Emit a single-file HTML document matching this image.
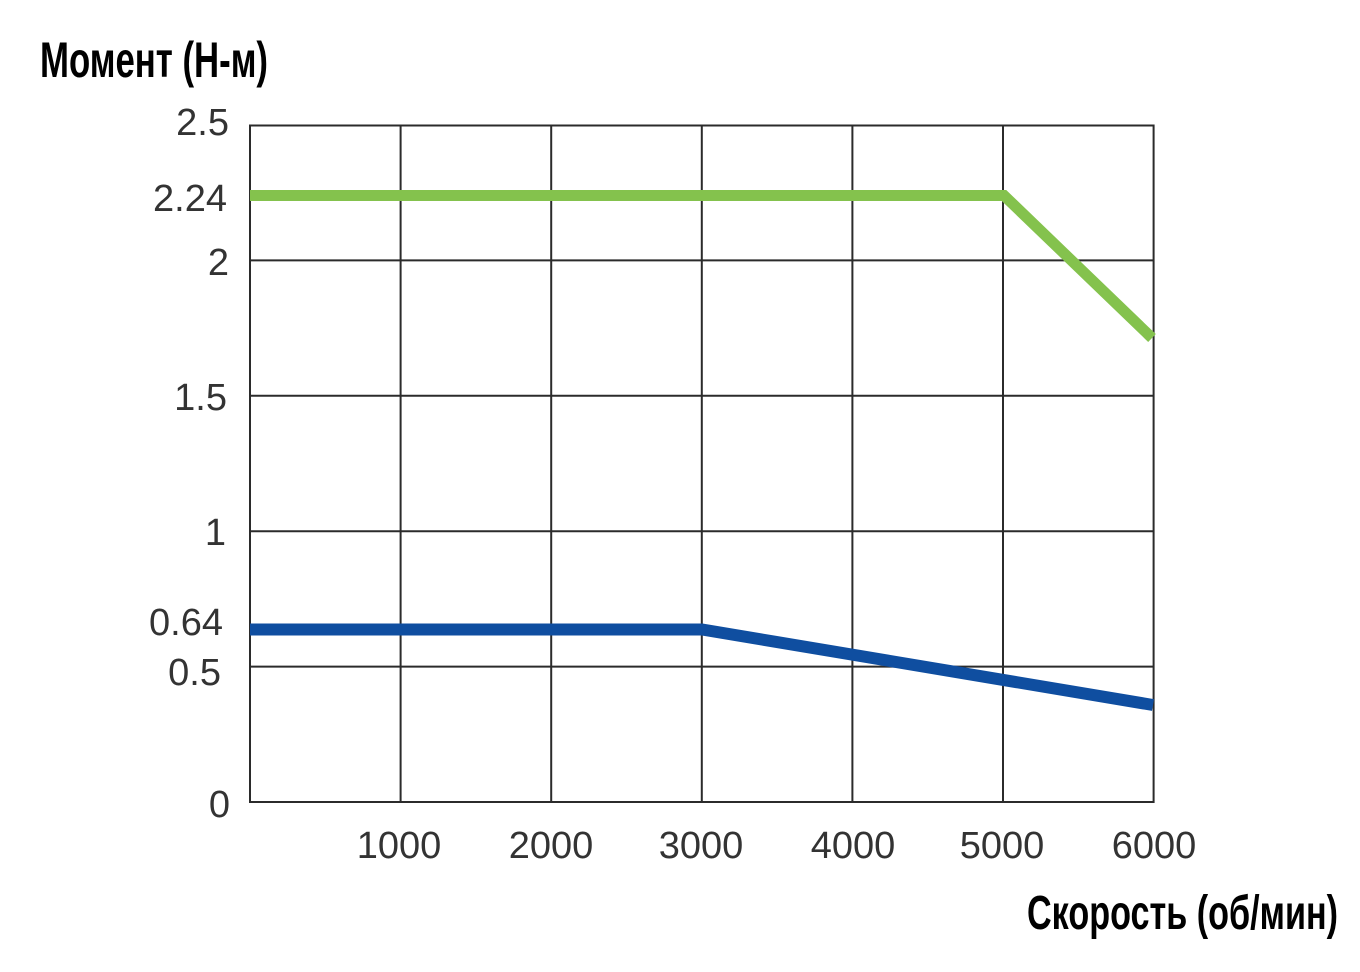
<!DOCTYPE html>
<html>
<head>
<meta charset="utf-8">
<style>
  html, body { margin: 0; padding: 0; background: #ffffff; }
  body { width: 1360px; height: 972px; overflow: hidden; }
  svg { display: block; }
  .tick { font-family: "Liberation Sans", "DejaVu Sans", sans-serif; font-size: 38px; fill: #333333; }
  .title { font-family: "Liberation Sans", "DejaVu Sans", sans-serif; font-weight: bold; fill: #000; }
</style>
</head>
<body>
<svg width="1360" height="972" viewBox="0 0 1360 972" xmlns="http://www.w3.org/2000/svg">
  <!-- Titles -->
  <text class="title" x="40" y="77" font-size="50" textLength="228" lengthAdjust="spacingAndGlyphs">Момент (Н-м)</text>
  <text class="title" x="1027" y="929" font-size="48" textLength="311" lengthAdjust="spacingAndGlyphs">Скорость (об/мин)</text>

  <!-- Grid -->
  <g stroke="#2b2b2b" stroke-width="2" fill="none">
    <rect x="250" y="125.5" width="903.6" height="676.5"/>
    <line x1="400.6" y1="125" x2="400.6" y2="802"/>
    <line x1="551.2" y1="125" x2="551.2" y2="802"/>
    <line x1="701.8" y1="125" x2="701.8" y2="802"/>
    <line x1="852.4" y1="125" x2="852.4" y2="802"/>
    <line x1="1003" y1="125" x2="1003" y2="802"/>
    <line x1="250" y1="260.4" x2="1153.6" y2="260.4"/>
    <line x1="250" y1="395.8" x2="1153.6" y2="395.8"/>
    <line x1="250" y1="531.2" x2="1153.6" y2="531.2"/>
    <line x1="250" y1="666.6" x2="1153.6" y2="666.6"/>
  </g>

  <!-- Series -->
  <polyline points="250,195.5 1004,195.5 1152,338" fill="none" stroke="#84c24d" stroke-width="11" stroke-linejoin="miter"/>
  <polyline points="250,629.5 702,629.5 1153,705" fill="none" stroke="#0f4ea0" stroke-width="12" stroke-linejoin="miter"/>

  <!-- Y tick labels -->
  <g class="tick" text-anchor="end">
    <text x="229" y="135">2.5</text>
    <text x="227" y="211">2.24</text>
    <text x="229" y="275">2</text>
    <text x="227" y="410">1.5</text>
    <text x="226" y="545">1</text>
    <text x="223" y="635">0.64</text>
    <text x="221" y="685">0.5</text>
    <text x="230" y="817">0</text>
  </g>

  <!-- X tick labels -->
  <g class="tick" text-anchor="middle">
    <text x="399" y="858">1000</text>
    <text x="551" y="858">2000</text>
    <text x="701" y="858">3000</text>
    <text x="853" y="858">4000</text>
    <text x="1002" y="858">5000</text>
    <text x="1154" y="858">6000</text>
  </g>
</svg>
</body>
</html>
